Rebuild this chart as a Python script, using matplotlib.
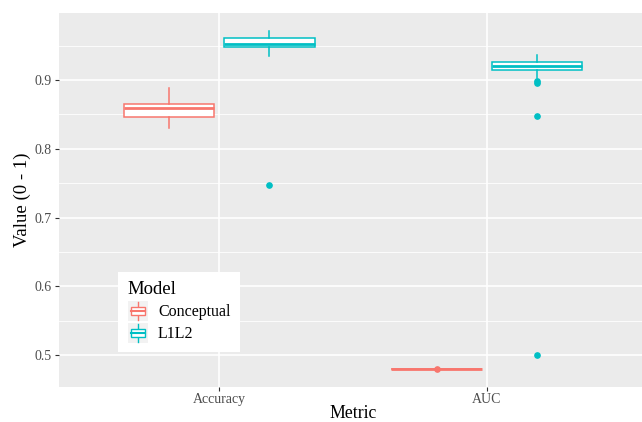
import matplotlib
matplotlib.use("Agg")
import matplotlib.pyplot as plt
from matplotlib.patches import Rectangle, Patch
from matplotlib.lines import Line2D
from matplotlib.legend_handler import HandlerBase

plt.rcParams['font.family'] = ['Liberation Serif', 'DejaVu Serif']

metrics = ["Accuracy", "AUC"]
models = ["Conceptual", "L1L2"]
colors = ["#F8766D", "#00BFC4"]

conc_low = [0.830, 0.479]
conc_q1 = [0.846, 0.479]
conc_med = [0.859, 0.479]
conc_q3 = [0.865, 0.479]
conc_high = [0.889, 0.479]
conc_out = [[], [0.479]]

l1l2_low = [0.935, 0.903]
l1l2_q1 = [0.948, 0.915]
l1l2_med = [0.952, 0.920]
l1l2_q3 = [0.961, 0.926]
l1l2_high = [0.972, 0.937]
l1l2_out = [[0.747], [0.898, 0.896, 0.847, 0.500]]

series = [
    (conc_low, conc_q1, conc_med, conc_q3, conc_high, conc_out),
    (l1l2_low, l1l2_q1, l1l2_med, l1l2_q3, l1l2_high, l1l2_out),
]

W, H = 642, 422
fig = plt.figure(figsize=(W / 100, H / 100), dpi=100)
left_px, right_px = 59, 647
top_px, bot_px = 13, 387
ax = fig.add_axes([left_px / W, (H - bot_px) / H, (right_px - left_px) / W, (bot_px - top_px) / H])
ax.set_facecolor("#EBEBEB")
for s in ax.spines.values():
    s.set_visible(False)

# grid
yt_major = [0.5, 0.6, 0.7, 0.8, 0.9]
yt_minor = [0.55, 0.65, 0.75, 0.85, 0.95]
for y in yt_minor:
    ax.axhline(y, color="white", lw=0.6, zorder=0)
for y in yt_major:
    ax.axhline(y, color="white", lw=1.2, zorder=0)
for x in [1, 2]:
    ax.axvline(x, color="white", lw=1.2, zorder=0)

dodge = 0.1875
bw = 0.3375
for gi, (stats_src, col) in enumerate(zip(series, colors)):
    low, q1, med, q3, high, out = stats_src
    stats = []
    for i in range(len(metrics)):
        stats.append(dict(whislo=low[i], q1=q1[i], med=med[i], q3=q3[i], whishi=high[i], fliers=out[i]))
    pos = [i + 1 + (gi * 2 - 1) * dodge for i in range(len(metrics))]
    ax.bxp(stats, positions=pos, widths=bw, patch_artist=True, showcaps=False,
           boxprops=dict(facecolor="white", edgecolor=col, lw=1.1),
           whiskerprops=dict(color=col, lw=1.1),
           medianprops=dict(color=col, lw=2.0),
           flierprops=dict(marker="o", markerfacecolor=col, markeredgecolor=col, markersize=3.8, linestyle="none"),
           manage_ticks=False, zorder=3)

ax.set_xlim(0.4, 2.6)
ax.set_ylim(0.4535, 0.9975)
ax.set_xticks([1, 2])
ax.set_xticklabels(metrics)
ax.set_yticks(yt_major)
ax.set_yticklabels(["0.5", "0.6", "0.7", "0.8", "0.9"])
ax.tick_params(axis="both", colors="#333333", length=3, width=0.8, labelsize=10, labelcolor="#4D4D4D", pad=2)
ax.tick_params(axis="x", pad=1.5)
ax.set_xlabel("Metric", fontsize=12.8, labelpad=-1)
ax.set_ylabel("Value (0 - 1)", fontsize=13.5, labelpad=3)


class BoxHandler(HandlerBase):
    def create_artists(self, legend, orig_handle, xdescent, ydescent, width, height, fontsize, trans):
        col = orig_handle.get_edgecolor()
        x0, y0 = -xdescent, -ydescent
        arts = []
        arts.append(Rectangle((x0, y0 - 1), width, height + 2, facecolor="#F2F2F2", edgecolor="none", transform=trans))
        cx = x0 + width / 2
        arts.append(Line2D([cx, cx], [y0, y0 + height], color=col, lw=1.0, transform=trans))
        bwid = width * 0.7
        arts.append(Rectangle((cx - bwid / 2, y0 + height * 0.25), bwid, height * 0.5, facecolor="white", edgecolor=col, lw=1.0, transform=trans))
        arts.append(Line2D([cx - bwid / 2, cx + bwid / 2], [y0 + height / 2, y0 + height / 2], color=col, lw=1.5, transform=trans))
        return arts


handles = [Patch(facecolor="white", edgecolor=c) for c in colors]
leg = ax.legend(handles, models, handler_map={Patch: BoxHandler()}, title="Model",
                loc="lower left", bbox_to_anchor=((118 - left_px) / (right_px - left_px), (bot_px - 352) / (bot_px - top_px)),
                borderaxespad=0, frameon=True, fancybox=False, framealpha=1, edgecolor="white",
                fontsize=11.5, title_fontsize=13.5, handlelength=1.3, handleheight=1.3, handletextpad=0.6,
                labelspacing=0.25, borderpad=0.6, alignment="left")
leg.get_frame().set_linewidth(0)

fig.savefig("out.png", dpi=100)
